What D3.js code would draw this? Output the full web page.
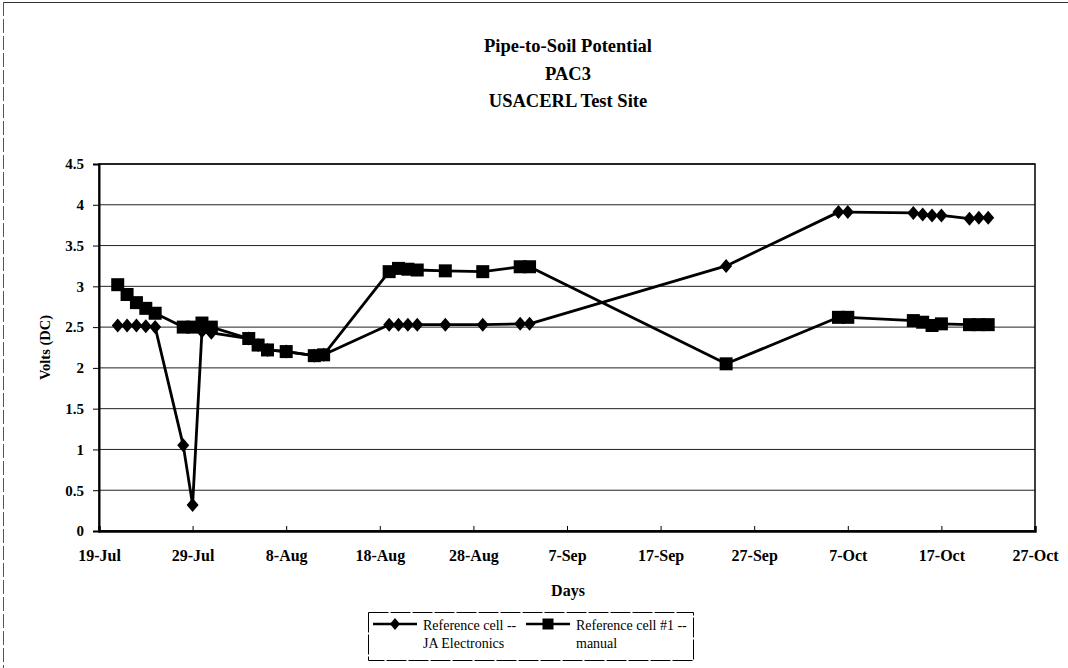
<!DOCTYPE html>
<html>
<head>
<meta charset="utf-8">
<script src="https://cdn.jsdelivr.net/npm/d3@7"></script>
<style>
  html, body { margin: 0; padding: 0; background: #fff; }
  svg { display: block; }
</style>
</head>
<body>
<svg id="chart" width="1068" height="668"></svg>
<script>
// ---- data ----
const titleLines = ["Pipe-to-Soil Potential", "PAC3", "USACERL Test Site"];
const seriesNames = [["Reference cell --", "JA Electronics"], ["Reference cell #1 --", "manual"]];
const dates = [
  "1996-07-21","1996-07-22","1996-07-23","1996-07-24","1996-07-25",
  "1996-07-28","1996-07-29","1996-07-30","1996-07-31",
  "1996-08-04","1996-08-05","1996-08-06","1996-08-08","1996-08-11","1996-08-12",
  "1996-08-19","1996-08-20","1996-08-21","1996-08-22","1996-08-25","1996-08-29",
  "1996-09-02","1996-09-03","1996-09-24",
  "1996-10-06","1996-10-07","1996-10-14","1996-10-15","1996-10-16","1996-10-17",
  "1996-10-20","1996-10-21","1996-10-22"
];
const jaValues = [
  2.52, 2.52, 2.52, 2.51, 2.50,
  1.05, 0.32, 2.45, 2.43,
  2.36, 2.28, 2.22, 2.20, 2.15, 2.16,
  2.53, 2.53, 2.53, 2.53, 2.53, 2.53,
  2.54, 2.54, 3.25,
  3.91, 3.91, 3.90, 3.88, 3.87, 3.87,
  3.83, 3.84, 3.84
];
const manualValues = [
  3.02, 2.90, 2.80, 2.73, 2.67,
  2.50, 2.50, 2.55, 2.50,
  2.36, 2.28, 2.22, 2.20, 2.15, 2.16,
  3.18, 3.22, 3.21, 3.20, 3.19, 3.18,
  3.24, 3.24, 2.05,
  2.62, 2.62, 2.58, 2.56, 2.52, 2.54,
  2.53, 2.53, 2.53
];
const xTickLabels = ["19-Jul","29-Jul","8-Aug","18-Aug","28-Aug","7-Sep","17-Sep","27-Sep","7-Oct","17-Oct","27-Oct"];
const yTicks = [0, 0.5, 1, 1.5, 2, 2.5, 3, 3.5, 4, 4.5];
const xTitle = "Days";
const yTitle = "Volts (DC)";

// ---- layout ----
const svg = d3.select("#chart");
const plot = { left: 99, right: 1035, top: 164, bottom: 531 };
const parseDate = d3.timeParse("%Y-%m-%d");
const parseTick = s => d3.timeParse("%d-%b-%Y")(s + "-1996");
const tickDates = xTickLabels.map(parseTick);
const FONT = '"Liberation Serif", "Times New Roman", Times';

const x = d3.scaleTime()
  .domain([tickDates[0], tickDates[tickDates.length - 1]])
  .range([plot.left, plot.right]);
const y = d3.scaleLinear().domain([0, 4.5]).range([plot.bottom, plot.top]);

svg.append("rect").attr("width", 1068).attr("height", 668).attr("fill", "#fff");
svg.append("line").attr("x1", 3).attr("x2", 1068).attr("y1", 2.5).attr("y2", 2.5)
  .attr("stroke", "#333").attr("stroke-width", 1.2);
svg.append("line").attr("x1", 3.5).attr("x2", 3.5).attr("y1", 2).attr("y2", 668)
  .attr("stroke", "#555").attr("stroke-width", 1).attr("stroke-dasharray", "14 3");

// title
titleLines.forEach((t, i) => {
  svg.append("text").attr("x", 568).attr("y", 52 + i * 27.5)
    .attr("text-anchor", "middle").style("font-family", FONT)
    .attr("font-weight", "bold").attr("font-size", 18.5).attr("fill", "#000").text(t);
});

// gridlines
svg.append("g").selectAll("line").data(yTicks).join("line")
  .attr("x1", plot.left).attr("x2", plot.right)
  .attr("y1", d => y(d)).attr("y2", d => y(d))
  .attr("stroke", "#222").attr("stroke-width", 1);

svg.append("rect")
  .attr("x", plot.left).attr("y", plot.top)
  .attr("width", plot.right - plot.left).attr("height", plot.bottom - plot.top)
  .attr("fill", "none").attr("stroke", "#000").attr("stroke-width", 1.5);

// y axis
const yAxis = d3.axisLeft(y).tickValues(yTicks).tickSize(6).tickPadding(9)
  .tickFormat(d3.format("~g"));
const gy = svg.append("g").attr("transform", `translate(${plot.left},0)`).call(yAxis);
gy.select(".domain").attr("stroke", "#000").attr("stroke-width", 2);
gy.selectAll(".tick line").attr("stroke", "#000");
gy.selectAll(".tick text").style("font-family", FONT).attr("font-size", 15)
  .attr("font-weight", "bold").attr("fill", "#000");

// x axis
const xAxis = d3.axisBottom(x).tickValues(tickDates).tickSize(-5).tickPadding(19)
  .tickFormat((d, i) => xTickLabels[i]);
const gx = svg.append("g").attr("transform", `translate(0,${plot.bottom})`).call(xAxis);
gx.select(".domain").attr("stroke", "#000").attr("stroke-width", 2.5);
gx.selectAll(".tick line").attr("stroke", "#000");
gx.selectAll(".tick text").style("font-family", FONT).attr("font-size", 16)
  .attr("font-weight", "bold").attr("fill", "#000");

// axis titles
svg.append("text").attr("x", 568).attr("y", 596).attr("text-anchor", "middle")
  .style("font-family", FONT).attr("font-weight", "bold").attr("font-size", 16).text(xTitle);
svg.append("text").attr("transform", `translate(50,${(plot.top + plot.bottom) / 2}) rotate(-90)`)
  .style("font-family", FONT).attr("text-anchor", "middle")
  .attr("font-weight", "bold").attr("font-size", 14.5).text(yTitle);

// series
const pts = (vals) => dates.map((d, i) => ({ date: parseDate(d), v: vals[i] }));
const line = d3.line().x(d => x(d.date)).y(d => y(d.v));
const diamondPath = "M0,-7L6,0L0,7L-6,0Z";
const squarePath = "M-6.5,-6.5H6.5V6.5H-6.5Z";

function drawSeries(vals, sym) {
  const data = pts(vals);
  svg.append("path").datum(data).attr("d", line)
    .attr("fill", "none").attr("stroke", "#000").attr("stroke-width", 2.8)
    .attr("stroke-linejoin", "round");
  svg.append("g").selectAll("path").data(data).join("path")
    .attr("d", sym)
    .attr("transform", d => `translate(${x(d.date)},${y(d.v)})`)
    .attr("fill", "#000");
}
drawSeries(jaValues, diamondPath);
drawSeries(manualValues, squarePath);

// legend
const lg = svg.append("g");
lg.append("rect").attr("x", 368.5).attr("y", 612.5).attr("width", 325).attr("height", 48)
  .attr("fill", "#fff").attr("stroke", "#000").attr("stroke-width", 1)
  .attr("stroke-dasharray", "20 2");
const legendItems = [
  { x0: 373, sym: "M0,-6L5,0L0,6L-5,0Z", names: seriesNames[0] },
  { x0: 526, sym: "M-5.5,-5.5H5.5V5.5H-5.5Z", names: seriesNames[1] }
];
legendItems.forEach(it => {
  lg.append("line").attr("x1", it.x0).attr("x2", it.x0 + 44).attr("y1", 624).attr("y2", 624)
    .attr("stroke", "#000").attr("stroke-width", 2.6);
  lg.append("path").attr("d", it.sym).attr("transform", `translate(${it.x0 + 22},624)`).attr("fill", "#000");
  it.names.forEach((n, i) => lg.append("text").attr("x", it.x0 + 50).attr("y", 630 + i * 18)
    .style("font-family", FONT).attr("font-size", 14).attr("fill", "#000").text(n));
});
</script>
</body>
</html>
